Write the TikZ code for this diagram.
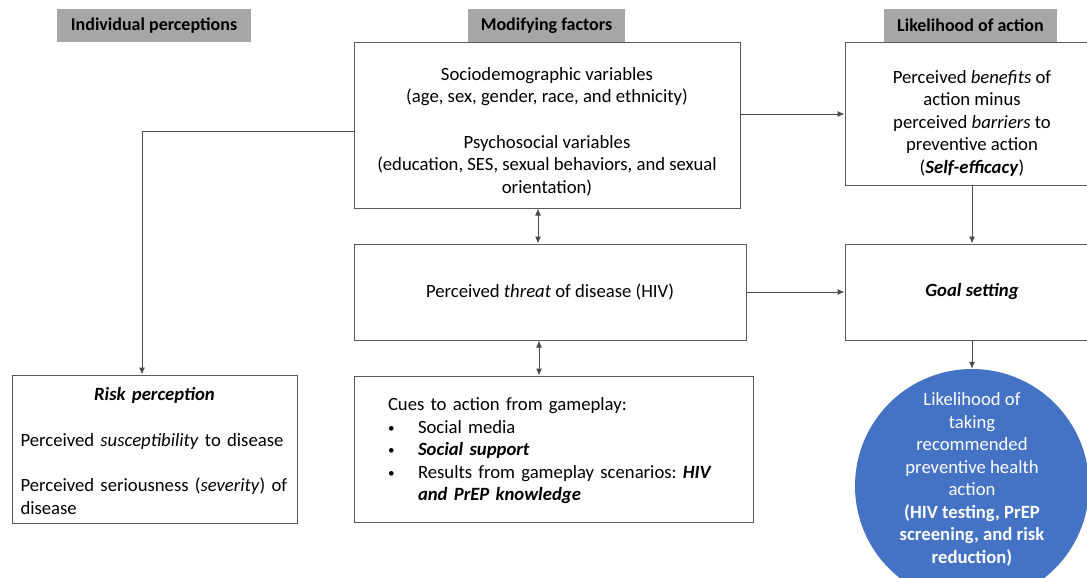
\documentclass[tikz,border=0pt]{standalone}
\usepackage{fontspec}
\usepackage{graphicx}
\setmainfont{Carlito}
\usetikzlibrary{arrows.meta}

\definecolor{headgray}{HTML}{A6A6A6}
\definecolor{boxgray}{HTML}{595959}
\definecolor{linegray}{HTML}{4A4A4A}
\definecolor{actblue}{HTML}{4472C4}

% strut on a first line, pushes the block down inside its box
\newcommand\topgap[1]{\rule{0pt}{#1}}
\newcommand\cuebullet{\makebox[30pt][l]{\raisebox{1pt}{\scalebox{0.7}{\textbullet}}}}

\begin{document}
\begin{tikzpicture}
  [x=1pt,y=-1pt,>={Latex[length=7pt,width=6pt]},
   every node/.style={font=\fontsize{18.7}{22.5}\selectfont\frenchspacing,inner sep=0pt},
   head/.style={fill=headgray,font=\fontsize{18}{22}\selectfont\bfseries,minimum height=33pt},
   box/.style={draw=boxgray,line width=1pt,fill=white},
   link/.style={draw=linegray,line width=1pt,->},
   both/.style={link,<->}]
  \useasboundingbox (0,0) rectangle (1087,578);
  \clip (0,0) rectangle (1087,578);

  % column headings
  \node[head,minimum width=194pt] (hind) at (154,25.5) {Individual perceptions};
  \node[head,minimum width=157pt] (hmod) at (546.5,25.5) {Modifying factors};
  \node[head,minimum width=173pt] (hact) at (970.5,25.5) {Likelihood of action};

  \node[box,minimum width=386pt,minimum height=165pt,align=center] (socio) at (547,125.5)
    {\topgap{25.5pt}Sociodemographic variables\\
     (age, sex, gender, race, and ethnicity)\\[23pt]
     Psychosocial variables\\
     (education, SES, sexual behaviors, and sexual\\
     orientation)};
  \node[box,minimum width=254pt,minimum height=142pt,align=center] (benefits) at (972,114)
    {\topgap{31.5pt}Perceived \textit{benefits} of\\
     action minus\\
     perceived \textit{barriers} to\\
     preventive action\\
     (\textbf{\textit{Self-efficacy}})};
  \node[box,minimum width=392pt,minimum height=96pt] (threat) at (550,292)
    {Perceived \textit{threat} of disease (HIV)};
  \node[box,minimum width=254pt,minimum height=96pt] (goal) at (972,292)
    {\textbf{\textit{Goal setting}}};
  \node[box,minimum width=399pt,minimum height=146pt,text width=331pt,align=left] (cues) at (553.5,449)
    {\topgap{17pt}Cues to action from gameplay:\\
     \cuebullet Social media\\
     \cuebullet\textbf{\textit{Social support}}\\
     \cuebullet Results from gameplay scenarios: \textbf{\textit{HIV}}\\
     \hspace*{30pt}\textbf{\textit{and PrEP knowledge}}};
  \node[box,minimum width=285pt,minimum height=148pt,text width=268pt,align=left] (risk) at (154.5,449)
    {\topgap{17pt}\makebox[268pt]{\bfseries\itshape Risk perception}\\[23pt]
     Perceived \textit{susceptibility} to disease\\[23pt]
     Perceived seriousness (\textit{severity}) of\\
     disease};
  \node[circle,fill=actblue,minimum size=234pt,inner sep=-8pt,
        text=white,align=center,text depth=16pt] (outcome) at (972,486)
    {Likelihood of\\
     taking\\
     recommended\\
     preventive health\\
     action\\
     \textbf{(HIV testing, PrEP}\\
     \textbf{screening, and risk}\\
     \textbf{reduction)}};

  \draw[link] ([yshift=-5.5pt]socio.west) -| ([xshift=-12.5pt]risk.north);
  \draw[link] (socio.east |- benefits.west) -- (benefits.west);
  \draw[both] ([xshift=-9pt]socio.south) -- ([xshift=-12pt]threat.north);
  \draw[both] ([xshift=-11pt]threat.south) -- ([xshift=-14.5pt]cues.north);
  \foreach \from/\to in {threat.east/goal.west,benefits.south/goal.north,goal.south/outcome.north}
    \draw[link] (\from) -- (\to);
\end{tikzpicture}
\end{document}
